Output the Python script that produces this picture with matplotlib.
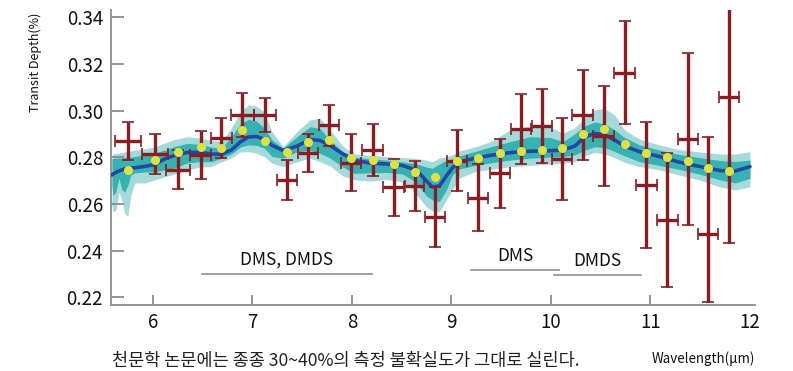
import numpy as np
import matplotlib
matplotlib.use("Agg")
import matplotlib.pyplot as plt

plt.rcParams['font.family'] = ['Noto Sans CJK KR', 'DejaVu Sans']

# measured spectrum (red crosses)
wl = [5.75, 6.02, 6.25, 6.48, 6.69, 6.90, 7.13, 7.35, 7.56, 7.77, 7.99, 8.21,
      8.42, 8.63, 8.84, 9.06, 9.27, 9.49, 9.70, 9.91, 10.11, 10.32, 10.53,
      10.74, 10.96, 11.17, 11.38, 11.58, 11.79]
depth = [0.2870, 0.2814, 0.2746, 0.2810, 0.2881, 0.2981, 0.2981, 0.2703, 0.2820,
         0.2938, 0.2777, 0.2830, 0.2671, 0.2677, 0.2544, 0.2785, 0.2627, 0.2731,
         0.2920, 0.2934, 0.2791, 0.2981, 0.2891, 0.3163, 0.2681, 0.2531, 0.2878,
         0.2470, 0.3060]
err_lo = [0.0082, 0.0087, 0.0084, 0.0104, 0.0086, 0.0096, 0.0073, 0.0087, 0.0081,
          0.0088, 0.0121, 0.0112, 0.0122, 0.0108, 0.0130, 0.0131, 0.0143, 0.0149,
          0.0150, 0.0159, 0.0176, 0.0191, 0.0216, 0.0221, 0.0270, 0.0288, 0.0368,
          0.0291, 0.0628]
err_hi = [0.0080, 0.0087, 0.0084, 0.0104, 0.0086, 0.0096, 0.0073, 0.0087, 0.0081,
          0.0088, 0.0121, 0.0112, 0.0122, 0.0108, 0.0130, 0.0131, 0.0143, 0.0149,
          0.0150, 0.0159, 0.0176, 0.0191, 0.0216, 0.0221, 0.0270, 0.0288, 0.0368,
          0.0416, 0.0375]
wl_err = [0.134, 0.13, 0.12, 0.105, 0.104, 0.113, 0.11, 0.10, 0.105, 0.10, 0.10,
          0.103, 0.103, 0.10, 0.10, 0.102, 0.10, 0.103, 0.105, 0.102, 0.10, 0.107,
          0.105, 0.103, 0.103, 0.105, 0.10, 0.10, 0.103]

# binned model (yellow dots)
model_bin = [0.2747, 0.2787, 0.2823, 0.2845, 0.2839, 0.2918, 0.2869, 0.2824, 0.2866,
             0.2875, 0.2798, 0.2787, 0.2771, 0.2736, 0.2714, 0.2784, 0.2798, 0.2817,
             0.2826, 0.2830, 0.2841, 0.2900, 0.2920, 0.2856, 0.2818, 0.2803, 0.2783,
             0.2753, 0.2743]

# model curve and credible bands
mx = [5.59, 5.60, 5.63, 5.66, 5.69, 5.72, 5.75, 5.78, 5.82, 5.92, 6.02, 6.12, 6.22,
      6.35, 6.47, 6.59, 6.69, 6.79, 6.88, 6.96, 7.04, 7.12, 7.20, 7.31, 7.45, 7.58,
      7.68, 7.78, 7.91, 8.03, 8.18, 8.35, 8.51, 8.61, 8.68, 8.75, 8.81, 8.88, 8.95,
      9.01, 9.08, 9.24, 9.39, 9.59, 9.79, 9.99, 10.12, 10.24, 10.34, 10.44, 10.54,
      10.64, 10.74, 10.89, 11.09, 11.29, 11.49, 11.70, 11.85, 12.00]
median = [0.2724, 0.2728, 0.2735, 0.2741, 0.2746, 0.2750, 0.2752, 0.2754, 0.2755,
          0.2761, 0.2769, 0.2793, 0.2808, 0.2821, 0.2821, 0.2814, 0.2813, 0.2831,
          0.2866, 0.2887, 0.2889, 0.2878, 0.2851, 0.2829, 0.2848, 0.2876, 0.2872,
          0.2851, 0.2814, 0.2786, 0.2776, 0.2771, 0.2765, 0.2750, 0.2731, 0.2698,
          0.2673, 0.2677, 0.2720, 0.2754, 0.2781, 0.2796, 0.2808, 0.2820, 0.2826,
          0.2828, 0.2831, 0.2848, 0.2887, 0.2902, 0.2896, 0.2874, 0.2848, 0.2824,
          0.2803, 0.2779, 0.2761, 0.2743, 0.2741, 0.2760]
s1_hi = [0.2793, 0.2795, 0.2796, 0.2797, 0.2797, 0.2799, 0.2799, 0.2801, 0.2803,
         0.2810, 0.2818, 0.2831, 0.2846, 0.2860, 0.2855, 0.2844, 0.2839, 0.2888,
         0.2943, 0.2962, 0.2956, 0.2926, 0.2874, 0.2840, 0.2888, 0.2931, 0.2924,
         0.2874, 0.2824, 0.2801, 0.2793, 0.2788, 0.2780, 0.2774, 0.2767, 0.2758,
         0.2753, 0.2771, 0.2788, 0.2793, 0.2806, 0.2825, 0.2844, 0.2867, 0.2888,
         0.2885, 0.2867, 0.2900, 0.2934, 0.2951, 0.2943, 0.2917, 0.2885, 0.2853,
         0.2831, 0.2812, 0.2799, 0.2786, 0.2782, 0.2788]
s1_lo = [0.2681, 0.2638, 0.2651, 0.2711, 0.2660, 0.2651, 0.2681, 0.2724, 0.2733,
         0.2737, 0.2738, 0.2746, 0.2754, 0.2776, 0.2781, 0.2781, 0.2796, 0.2814,
         0.2844, 0.2853, 0.2851, 0.2839, 0.2803, 0.2796, 0.2824, 0.2831, 0.2817,
         0.2797, 0.2758, 0.2731, 0.2733, 0.2735, 0.2728, 0.2703, 0.2673, 0.2634,
         0.2617, 0.2610, 0.2660, 0.2724, 0.2750, 0.2765, 0.2776, 0.2788, 0.2796,
         0.2801, 0.2803, 0.2810, 0.2831, 0.2845, 0.2842, 0.2825, 0.2806, 0.2781,
         0.2765, 0.2748, 0.2728, 0.2703, 0.2690, 0.2710]
s2_hi = [0.2806, 0.2814, 0.2817, 0.2818, 0.2821, 0.2823, 0.2823, 0.2827, 0.2831,
         0.2836, 0.2845, 0.2861, 0.2876, 0.2888, 0.2883, 0.2872, 0.2867, 0.2926,
         0.2994, 0.3024, 0.3020, 0.2994, 0.2908, 0.2845, 0.2910, 0.2960, 0.2968,
         0.2917, 0.2848, 0.2814, 0.2808, 0.2803, 0.2799, 0.2796, 0.2793, 0.2788,
         0.2781, 0.2797, 0.2803, 0.2810, 0.2827, 0.2845, 0.2866, 0.2917, 0.2934,
         0.2931, 0.2903, 0.2926, 0.2968, 0.3003, 0.3009, 0.2981, 0.2917, 0.2878,
         0.2853, 0.2833, 0.2823, 0.2814, 0.2814, 0.2824]
s2_lo = [0.2596, 0.2566, 0.2574, 0.2651, 0.2617, 0.2557, 0.2548, 0.2638, 0.2690,
         0.2690, 0.2703, 0.2716, 0.2728, 0.2746, 0.2758, 0.2760, 0.2781, 0.2797,
         0.2823, 0.2824, 0.2818, 0.2803, 0.2774, 0.2760, 0.2781, 0.2796, 0.2781,
         0.2763, 0.2720, 0.2703, 0.2698, 0.2705, 0.2694, 0.2660, 0.2624, 0.2587,
         0.2570, 0.2566, 0.2617, 0.2660, 0.2711, 0.2739, 0.2748, 0.2760, 0.2765,
         0.2771, 0.2774, 0.2781, 0.2806, 0.2821, 0.2814, 0.2799, 0.2778, 0.2760,
         0.2746, 0.2724, 0.2703, 0.2673, 0.2660, 0.2674]

# molecule feature spans
labels = ["DMS, DMDS", "DMS", "DMDS"]
span_start = [6.49, 9.20, 10.03]
span_end = [8.20, 10.08, 10.91]
span_y = [0.2300, 0.2318, 0.2297]

fig = plt.figure(figsize=(7.93, 3.71), dpi=100)
ax = fig.add_axes([0.1404, 0.1779, 0.8116, 0.7951])

ax.fill_between(mx, s2_lo, s2_hi, color='#a5dada', lw=0, zorder=1)
ax.fill_between(mx, s1_lo, s1_hi, color='#35b2b1', lw=0, zorder=2)
ax.plot(mx, median, color='#2247a6', lw=2.6, zorder=3, solid_capstyle='round')

eb = ax.errorbar(wl, depth, yerr=[err_lo, err_hi], xerr=wl_err, fmt='none',
                 ecolor='#8b1c22', elinewidth=2.4, capsize=4, capthick=1.2,
                 zorder=4)
for cap in eb[1]:
    cap.set_color('#d9a1a7')

ax.plot(wl, model_bin, 'o', color='#dfe23c', ms=6.5, mec='none', zorder=5)

for lab, a, b, yy in zip(labels, span_start, span_end, span_y):
    ax.plot([a, b], [yy, yy], color='#9a9a9a', lw=1.3, zorder=1)
    ax.text((a + b) / 2, yy + 0.0022, lab, ha='center', va='bottom',
            fontsize=12.5, fontweight='medium', color='#111111')

ax.set_xlim(5.584, 12.05)
ax.set_ylim(0.2167, 0.3431)
ax.set_xticks([6, 7, 8, 9, 10, 11, 12])
ax.set_yticks([0.22, 0.24, 0.26, 0.28, 0.30, 0.32, 0.34])
ax.set_yticklabels(['0.22', '0.24', '0.26', '0.28', '0.30', '0.32', '0.34'])

for s in ['top', 'right']:
    ax.spines[s].set_visible(False)
for s in ['left', 'bottom']:
    ax.spines[s].set_color('#8c8c8c')
    ax.spines[s].set_linewidth(1.3)
ax.tick_params(axis='both', direction='in', color='#8c8c8c', width=1.3,
               labelsize=13.5, labelcolor='#111111')
ax.tick_params(axis='y', length=9, pad=6)
ax.tick_params(axis='x', length=7, pad=5)
ax.xaxis.get_major_ticks()[-1].tick1line.set_visible(False)
for t in ax.get_xticklabels() + ax.get_yticklabels():
    t.set_fontweight('medium')

fig.text(35 / 793, 1 - 62 / 371, 'Transit Depth(%)', rotation=90,
         ha='center', va='center', fontsize=9, color='#111111')
fig.text(112 / 793, 1 - 361 / 371,
         '천문학 논문에는 종종 30~40%의 측정 불확실도가 그대로 실린다.',
         ha='left', va='center', fontsize=12.6, color='#222222')
fig.text(755 / 793, 1 - 359 / 371, 'Wavelength(μm)', ha='right', va='center',
         fontsize=9.6, fontweight='medium', color='#111111')

fig.savefig('out.png', dpi=100)
